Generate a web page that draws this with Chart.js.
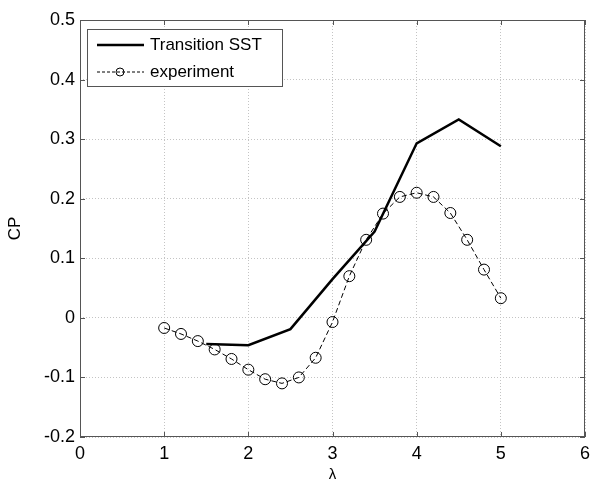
<!DOCTYPE html>
<html>
<head>
<meta charset="utf-8">
<script src="https://cdn.jsdelivr.net/npm/chart.js@4/dist/chart.umd.min.js"></script>
<style>
  html, body { margin: 0; padding: 0; background: #fff; }
  #wrap { width: 610px; height: 480px; }
</style>
</head>
<body>
<div id="wrap"><canvas id="cpChart"></canvas></div>
<script>
// 데이터
const sstLambda = [1.5, 2, 2.5, 3, 3.5, 4, 4.5, 5];
const sstCp = [-0.044, -0.046, -0.019, 0.065, 0.145, 0.293, 0.333, 0.288];
const expLambda = [1, 1.2, 1.4, 1.6, 1.8, 2, 2.2, 2.4, 2.6, 2.8, 3, 3.2, 3.4, 3.6, 3.8, 4, 4.2, 4.4, 4.6, 4.8, 5];
const expCp = [-0.017, -0.027, -0.039, -0.053, -0.069, -0.087, -0.103, -0.110, -0.100, -0.067, -0.007,
               0.070, 0.131, 0.175, 0.203, 0.210, 0.203, 0.176, 0.131, 0.081, 0.033];
const xTicks = [0, 1, 2, 3, 4, 5, 6];
const yTicks = [-0.2, -0.1, 0, 0.1, 0.2, 0.3, 0.4, 0.5];

const FONT = '"Liberation Sans", Arial, sans-serif';

// 박스 + 안쪽 눈금 + 범례
const matlabFrame = {
    id: 'matlabFrame',
    afterDatasetsDraw(chart) {
        const ctx = chart.ctx;
        const ca = chart.chartArea;
        const xs = chart.scales.x, ys = chart.scales.y;
        ctx.save();
        ctx.strokeStyle = '#555';
        ctx.lineWidth = 1;
        ctx.strokeRect(ca.left + 0.5, ca.top + 0.5, ca.right - ca.left - 1, ca.bottom - ca.top - 1);
        ctx.beginPath();
        xTicks.forEach(v => {
            const px = Math.round(xs.getPixelForValue(v)) + 0.5;
            ctx.moveTo(px, ca.bottom); ctx.lineTo(px, ca.bottom - 5);
            ctx.moveTo(px, ca.top); ctx.lineTo(px, ca.top + 5);
        });
        yTicks.forEach(v => {
            const py = Math.round(ys.getPixelForValue(v)) + 0.5;
            ctx.moveTo(ca.left, py); ctx.lineTo(ca.left + 5, py);
            ctx.moveTo(ca.right, py); ctx.lineTo(ca.right - 5, py);
        });
        ctx.stroke();

        // 범례
        const bx = ca.left + 7, by = ca.top + 9, bw = 195, bh = 57;
        ctx.fillStyle = '#fff';
        ctx.fillRect(bx, by, bw, bh);
        ctx.strokeStyle = '#555';
        ctx.strokeRect(bx + 0.5, by + 0.5, bw, bh);
        const r1 = by + 16, r2 = by + 43;
        ctx.strokeStyle = '#000';
        ctx.lineWidth = 2.5;
        ctx.beginPath(); ctx.moveTo(bx + 10, r1); ctx.lineTo(bx + 57, r1); ctx.stroke();
        ctx.lineWidth = 1;
        ctx.setLineDash([3, 2]);
        ctx.beginPath(); ctx.moveTo(bx + 10, r2); ctx.lineTo(bx + 57, r2); ctx.stroke();
        ctx.setLineDash([]);
        ctx.fillStyle = '#fff';
        ctx.beginPath(); ctx.arc(bx + 33, r2, 4, 0, Math.PI * 2); ctx.stroke();
        ctx.fillStyle = '#000';
        ctx.font = '17px ' + FONT;
        ctx.textBaseline = 'middle';
        ctx.fillText('Transition SST', bx + 63, r1);
        ctx.fillText('experiment', bx + 63, r2);
        ctx.restore();
    }
};

document.addEventListener('DOMContentLoaded', function() {
    const ctx = document.getElementById('cpChart');
    new Chart(ctx, {
        type: 'scatter',
        data: {
            datasets: [{
                label: 'Transition SST',
                data: sstLambda.map((x, i) => ({ x: x, y: sstCp[i] })),
                showLine: true,
                borderColor: '#000',
                borderWidth: 2.5,
                pointRadius: 0,
                tension: 0
            }, {
                label: 'experiment',
                data: expLambda.map((x, i) => ({ x: x, y: expCp[i] })),
                showLine: true,
                borderColor: '#000',
                borderWidth: 1,
                borderDash: [5, 3],
                pointRadius: 5.5,
                pointBorderWidth: 1,
                pointBorderColor: '#000',
                pointBackgroundColor: 'rgba(0,0,0,0)',
                tension: 0
            }]
        },
        options: {
            responsive: true,
            maintainAspectRatio: false,
            animation: false,
            layout: {
                padding: { top: 20, right: 25, left: 0, bottom: 0 }
            },
            plugins: {
                legend: { display: false },
                tooltip: { enabled: false }
            },
            scales: {
                x: {
                    type: 'linear',
                    min: 0,
                    max: 6,
                    afterFit: function(scale) { scale.height = 43; },
                    afterBuildTicks: function(scale) {
                        scale.ticks = xTicks.map(v => ({ value: v }));
                    },
                    ticks: {
                        color: '#000',
                        padding: 6,
                        font: { family: FONT, size: 18 },
                        callback: function(value) { return String(value); }
                    },
                    grid: {
                        color: '#c4c4c4',
                        lineWidth: 1,
                        drawTicks: false
                    },
                    border: { display: false, dash: [1, 2] },
                    title: {
                        display: true,
                        text: 'λ',
                        color: '#000',
                        font: { family: FONT, size: 15 },
                        padding: { top: 0, bottom: -4 }
                    }
                },
                y: {
                    type: 'linear',
                    min: -0.2,
                    max: 0.5,
                    afterFit: function(scale) { scale.width = 80; },
                    afterBuildTicks: function(scale) {
                        scale.ticks = yTicks.map(v => ({ value: v }));
                    },
                    ticks: {
                        color: '#000',
                        padding: 5,
                        font: { family: FONT, size: 18 },
                        callback: function(value) {
                            return Math.abs(value) < 1e-9 ? '0' : value.toFixed(1);
                        }
                    },
                    grid: {
                        color: '#c4c4c4',
                        lineWidth: 1,
                        drawTicks: false
                    },
                    border: { display: false, dash: [1, 2] },
                    title: {
                        display: true,
                        text: 'CP',
                        color: '#000',
                        font: { family: FONT, size: 17 },
                        padding: { top: 5, bottom: 0 }
                    }
                }
            }
        },
        plugins: [matlabFrame]
    });
});
</script>
</body>
</html>
